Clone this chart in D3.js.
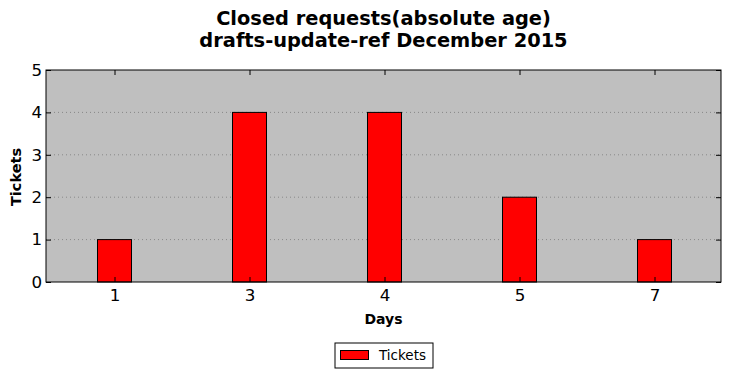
<!DOCTYPE html>
<html><head><meta charset="utf-8">
<script src="https://cdn.jsdelivr.net/npm/d3@7"></script>
<style>body{margin:0;background:#fff;} text{font-family:"DejaVu Sans",sans-serif;}</style>
</head><body>
<svg id="c" width="731" height="378"></svg>
<script>
const categories = ["1","3","4","5","7"];
const tickets = [1,4,4,2,1];
const yTicks = [0,1,2,3,4,5];
const titleLines = ["Closed requests(absolute age)","drafts-update-ref December 2015"];

const svg = d3.select("#c");
const L=46, R=721, T=70, B=282;
const x = d3.scalePoint().domain(categories).range([L+1,R+1]).padding(0.5);
const y = d3.scaleLinear().domain([0,5]).range([B,T]);
const bw = 34;

svg.append("rect").attr("x",L).attr("y",T).attr("width",R-L).attr("height",B-T).attr("fill","#bfbfbf");

// grid
svg.append("g").selectAll("line").data(yTicks.filter(d=>d>0&&d<5)).join("line")
  .attr("x1",L).attr("x2",R).attr("y1",d=>y(d)).attr("y2",d=>y(d))
  .attr("stroke","#888").attr("stroke-width",1).attr("stroke-dasharray","1,3");

// bars
svg.append("g").selectAll("rect").data(tickets).join("rect")
  .attr("x",(d,i)=>x(categories[i])-bw/2).attr("width",bw)
  .attr("y",d=>y(d)).attr("height",d=>B-y(d))
  .attr("fill","#ff0000").attr("stroke","#000").attr("stroke-width",1);

// axes
const yl = d3.axisLeft(y).tickValues(yTicks).tickFormat(d3.format("d")).tickSizeInner(-5).tickSizeOuter(0).tickPadding(4);
const yr = d3.axisRight(y).tickValues(yTicks).tickSizeInner(-5).tickSizeOuter(0).tickFormat("");
const xb = d3.axisBottom(x).tickSizeInner(-5).tickSizeOuter(0).tickPadding(7);
const xt = d3.axisTop(x).tickSizeInner(-5).tickSizeOuter(0).tickFormat("");
const gl = svg.append("g").attr("transform",`translate(${L},0)`).call(yl);
const gr = svg.append("g").attr("transform",`translate(${R},0)`).call(yr);
const gb = svg.append("g").attr("transform",`translate(0,${B})`).call(xb);
const gt = svg.append("g").attr("transform",`translate(0,${T})`).call(xt);
[gl,gr,gb,gt].forEach(g=>{g.select(".domain").remove(); g.selectAll("line").attr("stroke","#000"); g.selectAll("text").attr("font-family","DejaVu Sans").attr("font-size",16.7).attr("fill","#000");});
svg.append("rect").attr("x",L).attr("y",T).attr("width",R-L).attr("height",B-T).attr("fill","none").attr("stroke","#000").attr("stroke-width",1);

// labels
svg.append("text").attr("x",(L+R)/2).attr("y",324).attr("text-anchor","middle").attr("font-size",14).attr("font-weight","bold").text("Days");
svg.append("text").attr("transform","translate(21,177) rotate(-90)").attr("text-anchor","middle").attr("font-size",14.5).attr("font-weight","bold").text("Tickets");
svg.append("g").selectAll("text").data(titleLines).join("text")
  .attr("x",(L+R)/2).attr("y",(d,i)=>25+i*22).attr("text-anchor","middle").attr("font-size",19.4).attr("font-weight","bold").text(d=>d);

// legend
const lg = svg.append("g");
lg.append("rect").attr("x",335).attr("y",343).attr("width",98).attr("height",25).attr("fill","#fff").attr("stroke","#000");
lg.append("rect").attr("x",340.5).attr("y",350.5).attr("width",28).attr("height",9).attr("fill","#ff0000").attr("stroke","#000");
lg.append("text").attr("x",379).attr("y",360).attr("font-size",13.5).text("Tickets");
</script>
</body></html>
